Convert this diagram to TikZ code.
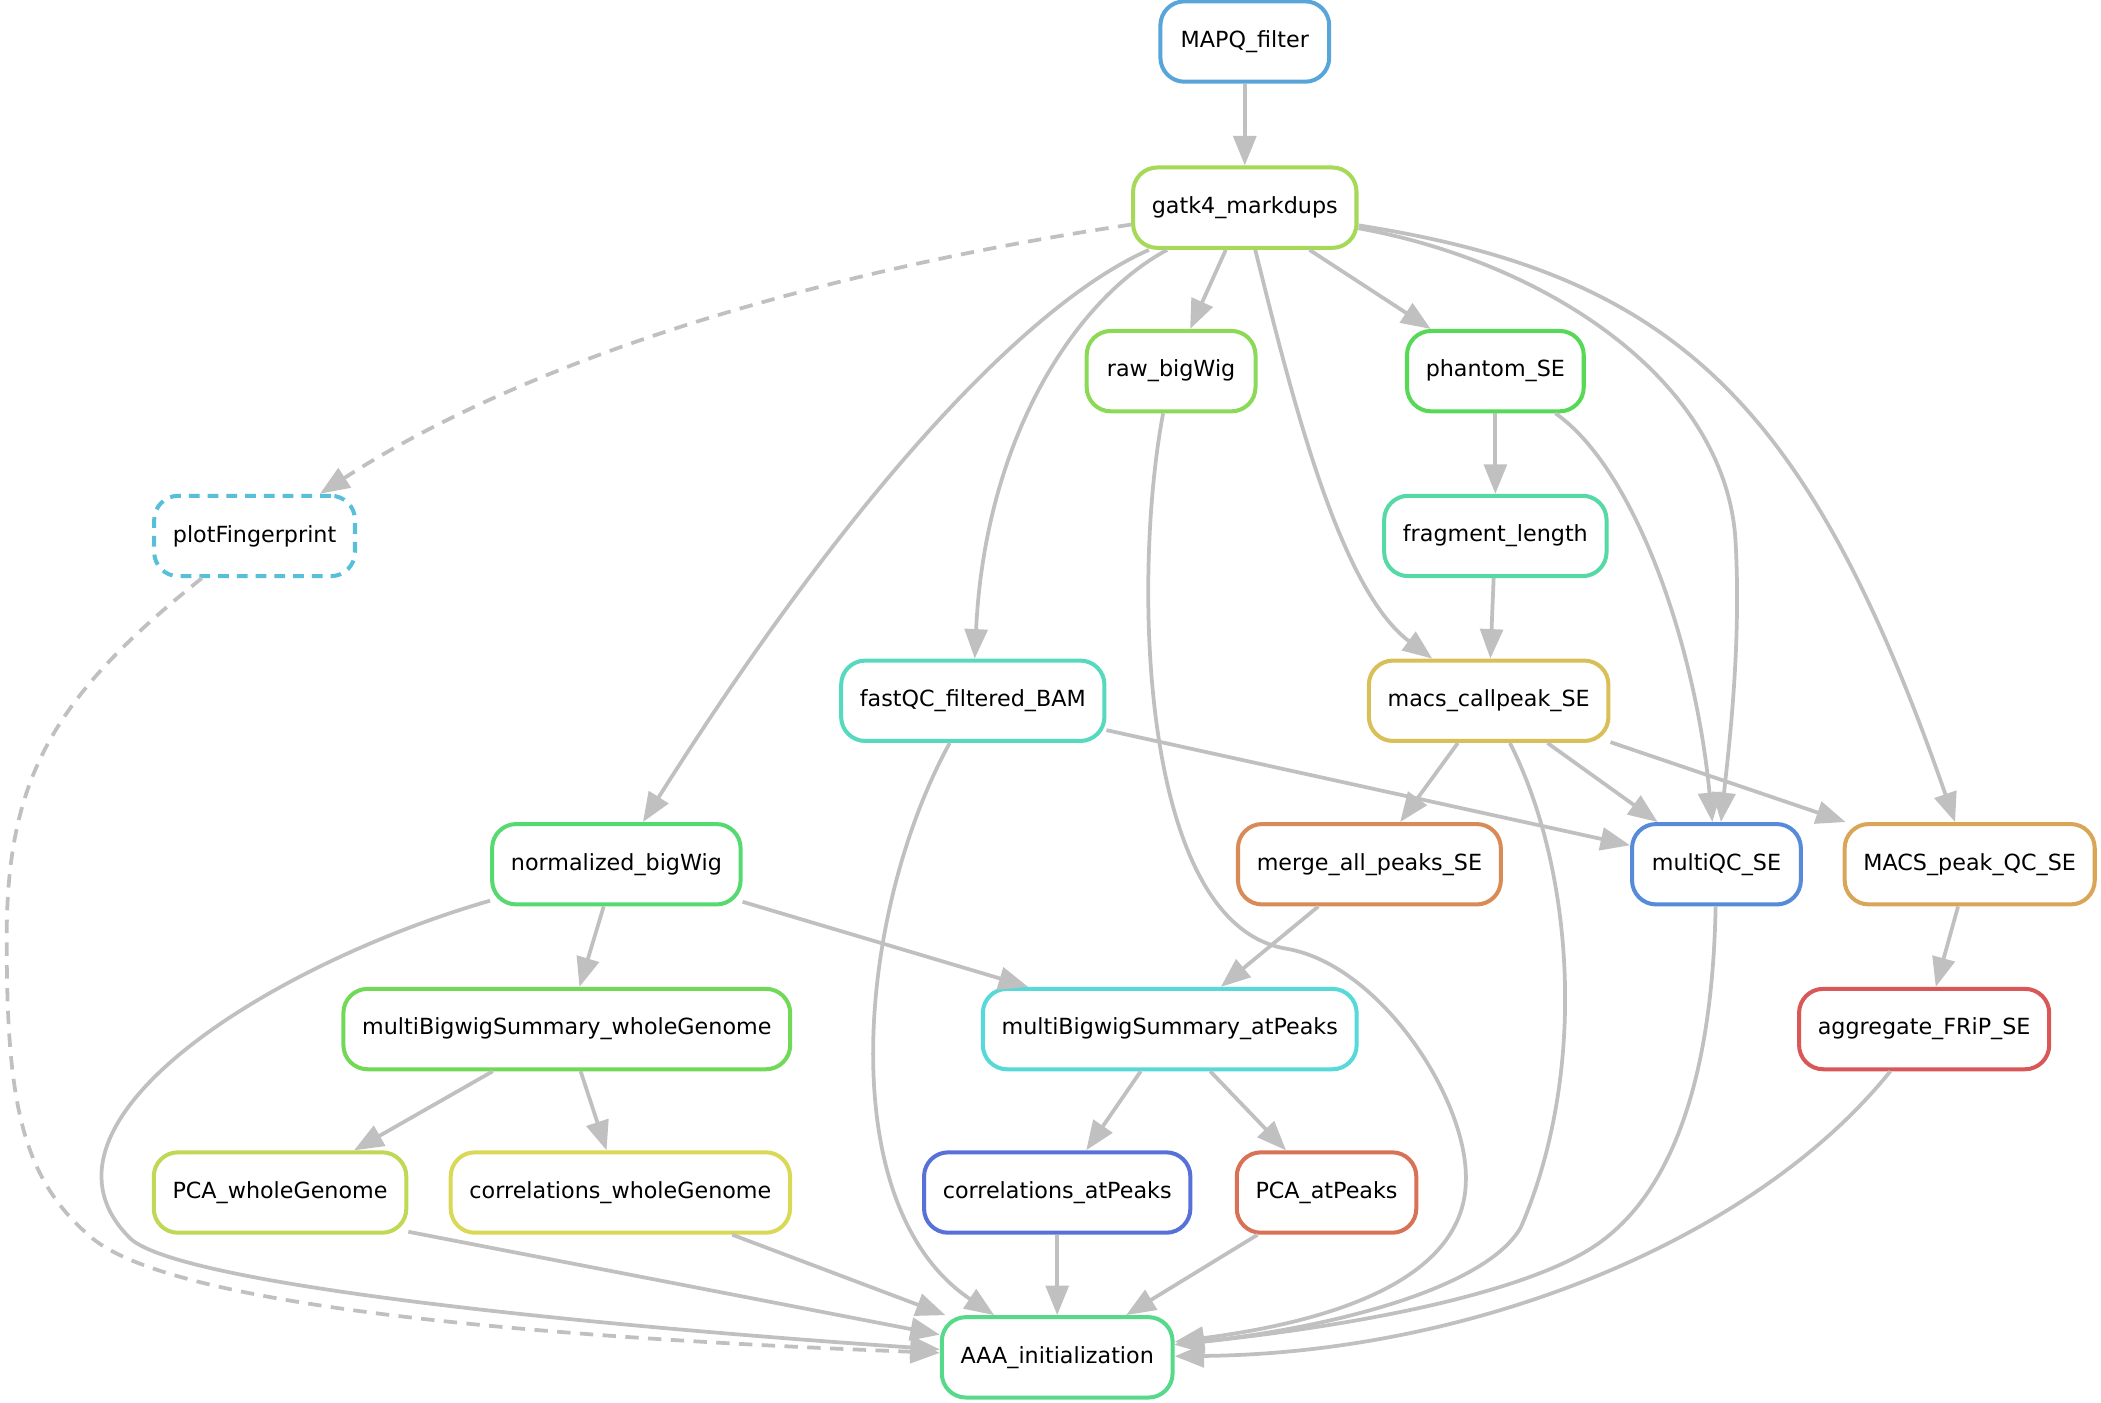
\documentclass[tikz,border=0pt]{standalone}
\usepackage{fontspec}
\setmainfont{DejaVu Sans}
\usetikzlibrary{arrows.meta}
\definecolor{edgegray}{HTML}{C0C0C0}
\definecolor{cAgg}{HTML}{D95757}
\definecolor{cPCAaP}{HTML}{D97157}
\definecolor{cMerge}{HTML}{D98B57}
\definecolor{cMacsQC}{HTML}{D9A557}
\definecolor{cMacs}{HTML}{D9BF57}
\definecolor{cCorrWG}{HTML}{D9D957}
\definecolor{cPCAwG}{HTML}{BFD957}
\definecolor{cGatk}{HTML}{A5D957}
\definecolor{cRaw}{HTML}{8BD957}
\definecolor{cMbsWG}{HTML}{71D957}
\definecolor{cPhantom}{HTML}{57D957}
\definecolor{cNorm}{HTML}{57D971}
\definecolor{cAAA}{HTML}{57D98B}
\definecolor{cFrag}{HTML}{57D9A5}
\definecolor{cFastQC}{HTML}{57D9BF}
\definecolor{cMbsAP}{HTML}{57D9D9}
\definecolor{cPF}{HTML}{57BFD9}
\definecolor{cMAPQ}{HTML}{57A5D9}
\definecolor{cMultiQC}{HTML}{578BD9}
\definecolor{cCorrAP}{HTML}{5771D9}
\tikzset{
  rule/.style={draw=#1, line width=1.5pt, rounded corners=9pt, fill=white,
    minimum height=30pt, minimum width=63pt, inner xsep=7pt, inner ysep=0pt,
    font=\fontsize{8.3}{10}\selectfont, text=black},
  edge/.style={draw=edgegray, line width=1.4pt,
    -{Triangle[length=11pt,width=8.5pt]}},
  dashedge/.style={edge, dash pattern=on 5pt off 3.5pt},
}
\begin{document}
\begin{tikzpicture}[x=0.5pt,y=-0.5pt]
\useasboundingbox (0,0) rectangle (1568,1047);
% nodes
\node[rule=cMAPQ] (mapq) at (929,31) {MAPQ\_filter};
\node[rule=cGatk] (gatk) at (929,155) {gatk4\_markdups};
\node[rule=cRaw] (raw) at (874,277) {raw\_bigWig};
\node[rule=cPhantom] (phantom) at (1116,277) {phantom\_SE};
\node[rule=cPF, dash pattern=on 4pt off 3pt] (pf) at (190,400) {plotFingerprint};
\node[rule=cFrag] (frag) at (1116,400) {fragment\_length};
\node[rule=cFastQC] (fastqc) at (726,523) {fastQC\_filtered\_BAM};
\node[rule=cMacs] (macs) at (1111,523) {macs\_callpeak\_SE};
\node[rule=cNorm] (norm) at (460,645) {normalized\_bigWig};
\node[rule=cMerge] (merge) at (1022,645) {merge\_all\_peaks\_SE};
\node[rule=cMultiQC] (multiqc) at (1281,645) {multiQC\_SE};
\node[rule=cMacsQC] (macsqc) at (1470,645) {MACS\_peak\_QC\_SE};
\node[rule=cMbsWG] (mbswg) at (423,768) {multiBigwigSummary\_wholeGenome};
\node[rule=cMbsAP] (mbsap) at (873,768) {multiBigwigSummary\_atPeaks};
\node[rule=cAgg] (agg) at (1436,768) {aggregate\_FRiP\_SE};
\node[rule=cPCAwG] (pcawg) at (209,890) {PCA\_wholeGenome};
\node[rule=cCorrWG] (corrwg) at (463,890) {correlations\_wholeGenome};
\node[rule=cCorrAP] (corrap) at (789,890) {correlations\_atPeaks};
\node[rule=cPCAaP] (pcaap) at (990,890) {PCA\_atPeaks};
\node[rule=cAAA] (aaa) at (789,1013) {AAA\_initialization};
% edges
\draw[edge] (mapq) -- (gatk);
\draw[dashedge] (gatk) .. controls (640,198) and (410,258) .. (pf);
\draw[edge] (gatk) .. controls (770,225) and (640,360) .. (norm);
\draw[edge] (gatk) .. controls (800,225) and (735,330) .. (fastqc);
\draw[edge] (gatk) -- (raw);
\draw[edge] (gatk) .. controls (965,300) and (1000,440) .. (macs);
\draw[edge] (gatk) -- (phantom);
\draw[edge] (gatk) .. controls (1150,195) and (1285,280) .. (1295,400)
  .. controls (1300,480) and (1290,560) .. (multiqc);
\draw[edge] (gatk) .. controls (1250,205) and (1350,300) .. (macsqc);
\draw[edge] (raw) .. controls (845,430) and (850,690) .. (960,708)
  .. controls (1030,720) and (1095,820) .. (1094,880)
  .. controls (1094,935) and (1040,980) .. (aaa);
\draw[edge] (phantom) -- (frag);
\draw[edge] (phantom) .. controls (1220,350) and (1265,480) .. (multiqc);
\draw[dashedge] (pf) .. controls (40,520) and (5,580) .. (5,700)
  .. controls (5,820) and (15,880) .. (70,925)
  .. controls (140,980) and (450,1000) .. (aaa);
\draw[edge] (frag) -- (macs);
\draw[edge] (fastqc) -- (multiqc);
\draw[edge] (fastqc) .. controls (640,680) and (620,900) .. (aaa);
\draw[edge] (macs) -- (merge);
\draw[edge] (macs) -- (multiqc);
\draw[edge] (macs) -- (macsqc);
\draw[edge] (macs) .. controls (1175,650) and (1185,800) .. (1135,916)
  .. controls (1110,960) and (1000,990) .. (aaa);
\draw[edge] (norm) -- (mbswg);
\draw[edge] (norm) -- (mbsap);
\draw[edge] (norm) .. controls (200,720) and (10,840) .. (98,925)
  .. controls (140,960) and (450,990) .. (aaa);
\draw[edge] (merge) -- (mbsap);
\draw[edge] (multiqc) .. controls (1278,800) and (1250,890) .. (1190,930)
  .. controls (1148,958) and (1050,985) .. (aaa);
\draw[edge] (macsqc) -- (agg);
\draw[edge] (agg) .. controls (1310,925) and (1100,1010) .. (aaa);
\draw[edge] (mbswg) -- (pcawg);
\draw[edge] (mbswg) -- (corrwg);
\draw[edge] (mbsap) -- (corrap);
\draw[edge] (mbsap) -- (pcaap);
\draw[edge] (pcawg.-17) -- (aaa);
\draw[edge] (corrwg) -- (aaa);
\draw[edge] (corrap) -- (aaa);
\draw[edge] (pcaap) -- (aaa);
\end{tikzpicture}
\end{document}
